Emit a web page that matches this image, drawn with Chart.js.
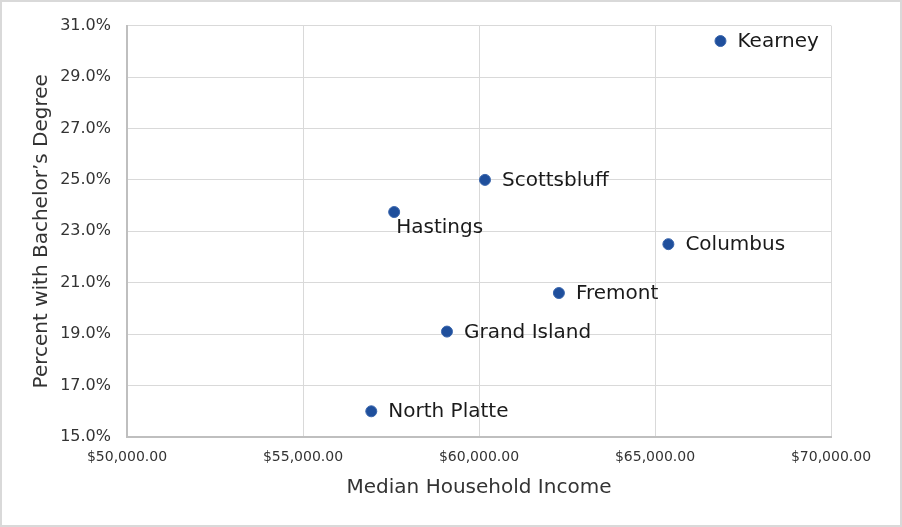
<!DOCTYPE html>
<html>
<head>
<meta charset="utf-8">
<script src="https://cdn.jsdelivr.net/npm/chart.js@4"></script>
<style>
  html, body { margin: 0; padding: 0; background: #fff; }
  #wrap { width: 902px; height: 527px; }
</style>
</head>
<body>
<div id="wrap"><canvas id="chartEducacion" width="902" height="527"></canvas></div>
<script>
var ciudades = ['Kearney', 'Scottsbluff', 'Hastings', 'Columbus', 'Fremont', 'Grand Island', 'North Platte'];
var ingresos = [66860, 60170, 57590, 65380, 62270, 59090, 56940];
var porcentajes = [30.4, 25.0, 23.75, 22.5, 20.6, 19.1, 16.0];
var ticksX = [50000, 55000, 60000, 65000, 70000];
var ticksY = [15, 17, 19, 21, 23, 25, 27, 29, 31];

var fuente = 'DejaVu Sans';

var etiquetas = {
    id: 'etiquetas',
    afterDatasetsDraw: function (chart) {
        var ctx = chart.ctx;
        var meta = chart.getDatasetMeta(0);
        ctx.save();
        ctx.font = '20px "' + fuente + '"';
        ctx.fillStyle = '#1a1a1a';
        ctx.textAlign = 'left';
        ctx.textBaseline = 'middle';
        meta.data.forEach(function (p, i) {
            if (ciudades[i] === 'Hastings') {
                ctx.fillText(ciudades[i], p.x + 2, p.y + 16);
            } else {
                ctx.fillText(ciudades[i], p.x + 17, p.y + 1);
            }
        });
        ctx.restore();
    }
};

var marco = {
    id: 'marco',
    beforeDraw: function (chart) {
        var ctx = chart.ctx;
        ctx.save();
        ctx.fillStyle = '#fff';
        ctx.fillRect(0, 0, chart.width, chart.height);
        ctx.strokeStyle = '#d9d9d9';
        ctx.lineWidth = 2;
        ctx.strokeRect(1, 1, chart.width - 2, chart.height - 2);
        ctx.restore();
    }
};

new Chart(document.getElementById('chartEducacion'), {
    type: 'scatter',
    data: {
        datasets: [{
            data: ingresos.map(function (v, i) { return { x: v, y: porcentajes[i] }; }),
            backgroundColor: '#1f4f9c',
            borderColor: '#3a66ad',
            borderWidth: 1,
            pointRadius: 5.5,
            pointHoverRadius: 5.5
        }]
    },
    options: {
        responsive: false,
        animation: false,
        layout: { padding: { left: 0, right: 71, top: 24, bottom: 0 } },
        plugins: { legend: { display: false }, tooltip: { enabled: false } },
        scales: {
            x: {
                type: 'linear',
                min: 50000, max: 70000,
                afterBuildTicks: function (s) { s.ticks = ticksX.map(function (v) { return { value: v }; }); },
                afterFit: function (s) { s.height = 90; },
                grid: { color: '#d9d9d9', drawTicks: false },
                border: { color: '#bfbfbf', width: 2 },
                ticks: {
                    color: '#333',
                    padding: 12,
                    font: { family: fuente, size: 14 },
                    callback: function (v) { return '$' + v.toLocaleString('en-US', { minimumFractionDigits: 2 }); }
                },
                title: {
                    display: true, text: 'Median Household Income', color: '#333',
                    font: { family: fuente, size: 20 }, padding: { top: 27, bottom: 27 }
                }
            },
            y: {
                min: 15, max: 31,
                afterBuildTicks: function (s) { s.ticks = ticksY.map(function (v) { return { value: v }; }); },
                afterFit: function (s) { s.width = 127; },
                grid: { color: '#d9d9d9', drawTicks: false },
                border: { color: '#bfbfbf', width: 2 },
                ticks: {
                    color: '#333',
                    padding: 16,
                    font: { family: fuente, size: 16 },
                    callback: function (v) { return v.toFixed(1) + '%'; }
                },
                title: {
                    display: true, text: 'Percent with Bachelor\u2019s Degree', color: '#333',
                    font: { family: fuente, size: 20 }, padding: { top: 30, bottom: 30 }
                }
            }
        }
    },
    plugins: [marco, etiquetas]
});
</script>
</body>
</html>
